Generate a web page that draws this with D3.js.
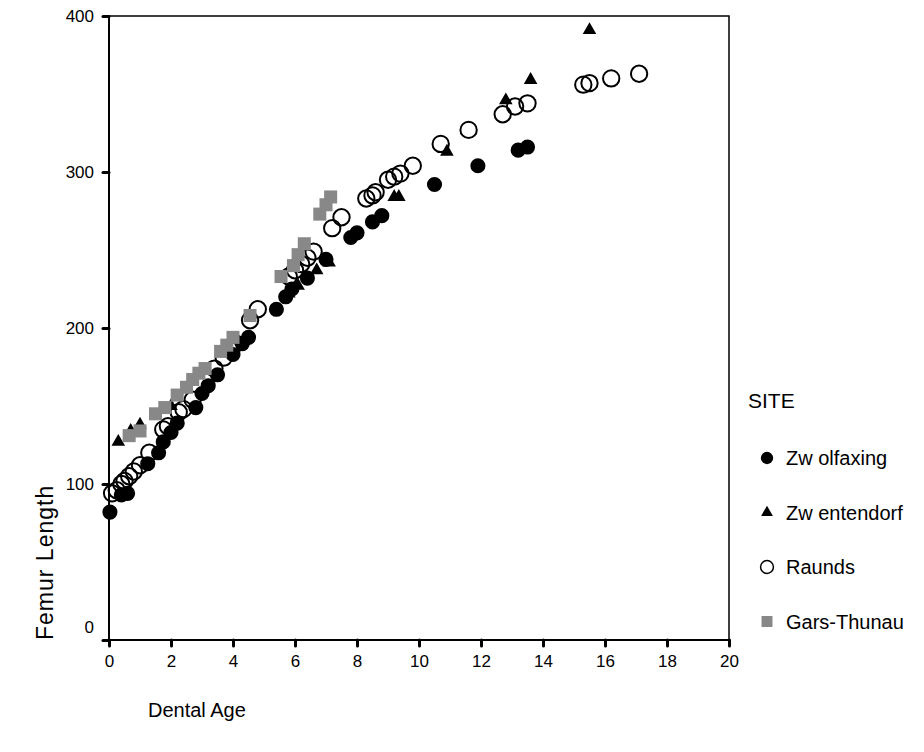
<!DOCTYPE html>
<html>
<head>
<meta charset="utf-8">
<script src="https://cdn.jsdelivr.net/npm/d3@7"></script>
<style>
body { margin: 0; background: #fff; }
text { font-family: "Liberation Sans", Arial, sans-serif; fill: #000; }
</style>
</head>
<body>
<svg id="chart" width="924" height="752"></svg>
<script>
// Data ===================================================================
var sites = ["Zw olfaxing", "Zw entendorf", "Raunds", "Gars-Thunau"];

var zwolfaxing = [
	[0.03, 82], [0.4, 93], [0.6, 94], [1.25, 113], [1.6, 120], [1.75, 127], [2.0, 133],
	[2.2, 139], [2.8, 149], [3.0, 158], [3.2, 163], [3.5, 170], [4.0, 183], [4.3, 190],
	[4.5, 194], [5.4, 212], [5.7, 220], [5.9, 225], [6.4, 232], [7.0, 244], [7.8, 258],
	[8.0, 261], [8.5, 268], [8.8, 272], [10.5, 292], [11.9, 304], [13.2, 314], [13.5, 316]
];
var zwentendorf = [
	[0.3, 127], [0.7, 134], [1.0, 138], [2.0, 150], [3.8, 187], [5.8, 222], [6.1, 227],
	[6.7, 237], [7.1, 242], [7.9, 260], [9.2, 284], [9.35, 284], [10.9, 313], [12.8, 346],
	[13.6, 359], [15.5, 391]
];
var raunds = [
	[0.1, 94], [0.25, 96], [0.4, 100], [0.5, 102], [0.65, 105], [0.8, 108], [1.0, 112],
	[1.3, 120], [1.75, 135], [1.9, 137], [2.25, 146], [2.4, 148], [2.7, 154], [3.4, 174],
	[3.7, 181], [3.9, 186], [4.1, 190], [4.55, 205], [4.8, 212], [5.8, 233], [6.0, 237],
	[6.2, 241], [6.4, 245], [6.6, 249], [7.2, 264], [7.5, 271], [8.3, 283], [8.5, 285],
	[8.6, 287], [9.0, 295], [9.2, 297], [9.4, 299], [9.8, 304], [10.7, 318], [11.6, 327],
	[12.7, 337], [13.1, 342], [13.5, 344], [15.3, 356], [15.5, 357], [16.2, 360], [17.1, 363]
];
var garsThunau = [
	[0.65, 131], [1.0, 134], [1.5, 145], [1.8, 149], [2.2, 157], [2.5, 162], [2.7, 167],
	[2.9, 171], [3.1, 174], [3.6, 185], [3.8, 189], [4.0, 194], [4.55, 208], [5.55, 233],
	[5.95, 240], [6.1, 247], [6.3, 254], [6.8, 273], [7.0, 279], [7.15, 284]
];

var xTicks = [0, 2, 4, 6, 8, 10, 12, 14, 16, 18, 20];
var yTicks = [0, 100, 200, 300, 400];

// Chart =================================================================
var svg = d3.select("#chart");
var pLeft = 109, pRight = 729, pTop = 16, pBottom = 640;

var x = d3.scaleLinear().domain([0, 20]).range([pLeft, pRight]);
var y = d3.scaleLinear().domain([0, 400]).range([pBottom, pTop]);

// frame (top and right)
svg.append("path")
	.attr("d", "M" + pLeft + "," + pTop + "H" + pRight + "V" + pBottom)
	.attr("fill", "none")
	.attr("stroke", "#000")
	.attr("stroke-width", 1.5);

var gx = svg.append("g")
	.attr("transform", "translate(0," + pBottom + ")")
	.call(d3.axisBottom(x).tickValues(xTicks).tickSize(6).tickPadding(9).tickFormat(d3.format("d")));
var gy = svg.append("g")
	.attr("transform", "translate(" + pLeft + ",0)")
	.call(d3.axisLeft(y).tickValues(yTicks).tickSize(6).tickPadding(9).tickFormat(d3.format("d")));

gx.select(".domain").attr("stroke-width", 2).attr("d", "M" + pLeft + ",0H" + pRight);
gy.select(".domain").attr("stroke-width", 2).attr("d", "M0," + pTop + "V" + pBottom);
[gx, gy].forEach(function (g) {
	g.selectAll(".tick line").attr("stroke-width", 3).attr("stroke-linecap", "round");
	g.selectAll(".tick text").attr("font-size", 17).attr("font-family", "Liberation Sans, Arial, sans-serif");
});
gy.selectAll(".tick text").filter(function (d) { return d === 0; }).attr("dy", "-0.45em");

// axis titles
svg.append("text")
	.attr("x", 148).attr("y", 717)
	.attr("font-size", 20)
	.text("Dental Age");
svg.append("text")
	.attr("transform", "translate(53,640) rotate(-90)")
	.attr("font-size", 23)
	.attr("letter-spacing", 1)
	.text("Femur Length");

// markers
var circleSym = d3.symbol().type(d3.symbolCircle).size(180);
var openSym = d3.symbol().type(d3.symbolCircle).size(210);
var triSym = d3.symbol().type(d3.symbolTriangle).size(80);
var sqSym = d3.symbol().type(d3.symbolSquare).size(170);

function drawSeries(data, sym, fill, stroke, sw) {
	svg.append("g").selectAll("path")
		.data(data)
		.join("path")
		.attr("transform", function (d) { return "translate(" + x(d[0]) + "," + y(d[1]) + ")"; })
		.attr("d", sym)
		.attr("fill", fill)
		.attr("stroke", stroke)
		.attr("stroke-width", sw);
}

drawSeries(zwolfaxing, circleSym, "#000", "none", 0);
drawSeries(zwentendorf, triSym, "#000", "none", 0);
drawSeries(raunds, openSym, "none", "#000", 2);
drawSeries(garsThunau, sqSym, "#888", "none", 0);

// legend
svg.append("text").attr("x", 748).attr("y", 408).attr("font-size", 21).text("SITE");
var legSyms = [
	{ sym: d3.symbol().type(d3.symbolCircle).size(120), fill: "#000", stroke: "none", sw: 0 },
	{ sym: d3.symbol().type(d3.symbolTriangle).size(60), fill: "#000", stroke: "none", sw: 0 },
	{ sym: d3.symbol().type(d3.symbolCircle).size(130), fill: "none", stroke: "#000", sw: 1.5 },
	{ sym: d3.symbol().type(d3.symbolSquare).size(120), fill: "#888", stroke: "none", sw: 0 }
];
sites.forEach(function (s, i) {
	var yy = 458 + i * 54.5;
	var m = legSyms[i];
	svg.append("path")
		.attr("transform", "translate(767," + yy + ")")
		.attr("d", m.sym)
		.attr("fill", m.fill)
		.attr("stroke", m.stroke)
		.attr("stroke-width", m.sw);
	svg.append("text")
		.attr("x", 786).attr("y", yy + 7)
		.attr("font-size", 20)
		.text(s);
});
</script>
</body>
</html>
